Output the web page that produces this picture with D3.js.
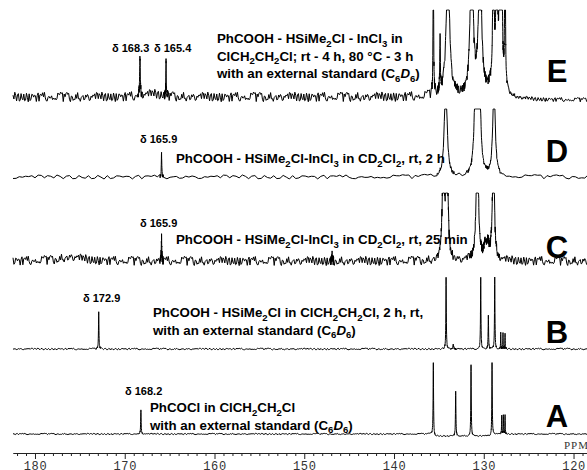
<!DOCTYPE html>
<html>
<head>
<meta charset="utf-8">
<script src="https://cdn.jsdelivr.net/npm/d3@7"></script>
<style>
body { margin: 0; background: #fff; }
svg { display: block; }
.lbl { font-family: "Liberation Sans", Arial, sans-serif; font-weight: bold; fill: #000; }
.big { font-family: "Liberation Sans", Arial, sans-serif; font-weight: bold; fill: #000; font-size: 31px; text-anchor: middle; }
.axis text { font-family: "Liberation Mono", monospace; font-size: 12px; fill: #333; letter-spacing: 0.6px; }
.axis path, .axis line { stroke: #222; }
.trace { fill: none; stroke: #000; stroke-width: 1; stroke-linejoin: round; }
</style>
</head>
<body>
<svg id="nmr" width="587" height="470"></svg>
<script>
var width = 587, height = 470;

// ppm axis
var ppmTicks = [180, 170, 160, 150, 140, 130, 120];
var ppmRange = [182.45, 118.5];

// hand-estimated baseline jitter (relative units, -1..1)
var noise = [0.35,-0.62,0.81,-0.18,-0.93,0.47,0.12,-0.41,0.74,-0.85,0.22,0.58,-0.29,-0.71,0.95,-0.07,
  0.43,-0.52,0.03,0.86,-0.64,0.31,-0.97,0.54,-0.21,0.69,-0.38,0.15,-0.79,0.63,0.26,-0.49,0.91,-0.33,
  -0.11,0.41,-0.73,0.84,-0.24,0.51,-0.88,0.37,0.66,-0.45,0.02,-0.59,0.72,-0.14,0.19,-0.82,0.55,0.93,
  -0.31,-0.56,0.09,0.61,-0.68,0.44,-0.19,0.79,-0.95,0.28,-0.37,0.67,-0.03,-0.74,0.52,0.17,-0.61,0.89,
  -0.26,0.34,-0.83,0.46,0.07,-0.48,0.76,-0.57,0.24,-0.12,0.97,-0.69,0.39,-0.36,0.58,-0.91,0.13,0.71,
  -0.43,-0.05,0.64,-0.77,0.29,-0.22,0.83,-0.54,0.48];

// peaks: [ppm, height, half width (ppm)]
var peaksE = [[168.3,40,0.04],[165.4,33,0.03],[166.9,3,1.2],
  [135.62,200,0.03],[134.87,52,0.04],[134.0,150,0.2],
  [131.35,150,0.18],[130.42,150,0.18],
  [128.93,200,0.06],[128.56,200,0.06],[128.19,200,0.05],[128.0,200,0.05],[127.63,200,0.04],[128.4,40,0.5]];
var peaksD = [[165.9,23,0.03],[134.24,110,0.16],[130.9,110,0.16],[130.5,110,0.16],[128.86,100,0.15]];
var peaksC = [[165.9,24,0.03],[176,4,1.5],[146.9,9,0.03],
  [134.5,120,0.12],[134.1,120,0.12],[130.72,130,0.14],
  [129.86,14,0.15],[129.53,14,0.15],[128.93,120,0.12]];
var peaksB = [[172.9,37,0.03],[134.2,71,0.03],[133.4,4,0.05],[130.34,71,0.03],[129.49,33,0.03],
  [128.78,71,0.03],[128.11,16,0.02],[127.86,16,0.02],[127.63,16,0.02]];
var peaksA = [[168.2,24,0.03],[135.62,71,0.03],[133.13,45,0.03],[131.42,71,0.03],[129.08,71,0.03],
  [128.0,19,0.02],[127.82,19,0.02],[127.63,19,0.02]];

// baseline shifts: [from ppm, to ppm, offset, noise factor]
var stepsE = [[127.55,118,-3,0.45]];
var stepsA = [[135.6,129.1,-2,1]];

var labelsE = ["PhCOOH - HSiMe_2Cl - InCl_3 in", "ClCH_2CH_2Cl; rt - 4 h, 80 °C - 3 h", "with an external standard (C_6*D*_6)"];
var labelsD = ["PhCOOH - HSiMe_2Cl-InCl_3 in CD_2Cl_2, rt, 2 h"];
var labelsC = ["PhCOOH - HSiMe_2Cl-InCl_3 in CD_2Cl_2, rt, 25 min"];
var labelsB = ["PhCOOH - HSiMe_2Cl in ClCH_2CH_2Cl, 2 h, rt,", "with an external standard (C_6*D*_6)"];
var labelsA = ["PhCOCl in ClCH_2CH_2Cl", "with an external standard (C_6*D*_6)"];

var traces = [
  {id:"E", peaks:peaksE, steps:stepsE, base:97,  clip:87, amp:5, res:0.1, off:0,
   shifts:[["δ 168.3",112,52],["δ 165.4",154,52]], text:labelsE, tx:217, ty:43, letterY:82},
  {id:"D", peaks:peaksD, steps:[], base:177, clip:68, amp:2.1, res:0.35, off:13,
   shifts:[["δ 165.9",140,143]], text:labelsD, tx:176, ty:163, letterY:162},
  {id:"C", peaks:peaksC, steps:[], base:261, clip:68, amp:4.8, res:0.1, off:29,
   shifts:[["δ 165.9",140,227]], text:labelsC, tx:176, ty:244, letterY:258},
  {id:"B", peaks:peaksB, steps:[], base:349, clip:Infinity, amp:0.9, res:0.12, off:47,
   shifts:[["δ 172.9",83,302]], text:labelsB, tx:153, ty:317, letterY:343},
  {id:"A", peaks:peaksA, steps:stepsA, base:434, clip:Infinity, amp:0.7, res:0.12, off:71,
   shifts:[["δ 168.2",125,395]], text:labelsA, tx:150, ty:412, letterY:427}
];

var svg = d3.select("#nmr");

var x = d3.scaleLinear().domain(ppmRange).range([13, 587]);
var y = d3.scaleLinear().domain([0, 100]).range([0, -100]);

function intensity(t, p, i)
{
  var v = 0;
  t.peaks.forEach(function(k) {
    var d = (p - k[0]) / k[2];
    v += k[1] / (1 + d * d);
  });
  var f = 1;
  t.steps.forEach(function(s) {
    if (p <= s[0] && p >= s[1]) { v += s[2]; f = s[3]; }
  });
  v += noise[(i * 7 + t.off) % noise.length] * t.amp * f;
  return Math.min(v, t.clip);
}

function samplePoints(t)
{
  var pts = d3.range(ppmRange[0], ppmRange[1], -t.res);
  t.peaks.forEach(function(k) {
    if (k[2] > 0.6) return;
    pts = pts.concat(d3.range(k[0] - 6 * k[2], k[0] + 6 * k[2], k[2] / 3));
    pts.push(k[0]);
  });
  pts.push(ppmRange[1]);
  pts.sort(function(a, b) { return b - a; });
  return pts;
}

var line = d3.line()
  .x(function(d) { return x(d[0]); })
  .y(function(d) { return y(d[1]); });

function richText(sel, str, size)
{
  var parts = str.split(/(_\d|\*[^*]+\*)/);
  var shift = 0;
  parts.forEach(function(p) {
    if (!p) return;
    var ts = sel.append("tspan");
    if (p[0] == "_") {
      ts.attr("font-size", size * 0.72).attr("dy", size * 0.28 - shift).text(p.slice(1));
      shift = size * 0.28;
    } else {
      if (p[0] == "*") { ts.attr("font-style", "italic"); p = p.slice(1, -1); }
      ts.attr("dy", -shift).text(p);
      shift = 0;
    }
  });
}

traces.forEach(function(t) {
  var g = svg.append("g").attr("transform", "translate(0," + t.base + ")");
  var pts = samplePoints(t).map(function(p, i) { return [p, intensity(t, p, i)]; });
  g.append("path").attr("class", "trace").attr("d", line(pts));

  t.shifts.forEach(function(s) {
    svg.append("text").attr("class", "lbl").attr("font-size", 11)
      .attr("x", s[1]).attr("y", s[2]).text(s[0]);
  });

  t.text.forEach(function(l, j) {
    var tx = svg.append("text").attr("class", "lbl").attr("font-size", 13.3)
      .attr("x", t.tx).attr("y", t.ty + j * 17.5);
    richText(tx, l, 13.3);
  });

  svg.append("text").attr("class", "big").attr("x", 557).attr("y", t.letterY).text(t.id);
});

// axis
var minor = d3.range(119, 183, 1).filter(function(d) { return ppmTicks.indexOf(d) < 0; });

svg.append("g").attr("class", "axis")
  .attr("transform", "translate(0,453)")
  .call(d3.axisBottom(x).tickValues(minor).tickSize(3).tickSizeOuter(0).tickFormat(""));

svg.append("g").attr("class", "axis")
  .attr("transform", "translate(0,453)")
  .call(d3.axisBottom(x).tickValues(ppmTicks).tickSize(6).tickSizeOuter(0).tickPadding(2));

svg.append("text")
  .attr("x", 564).attr("y", 449)
  .style("font-family", "'Liberation Serif', serif")
  .style("font-size", "11px")
  .style("letter-spacing", "1px")
  .style("fill", "#333")
  .text("PPM");
</script>
</body>
</html>
